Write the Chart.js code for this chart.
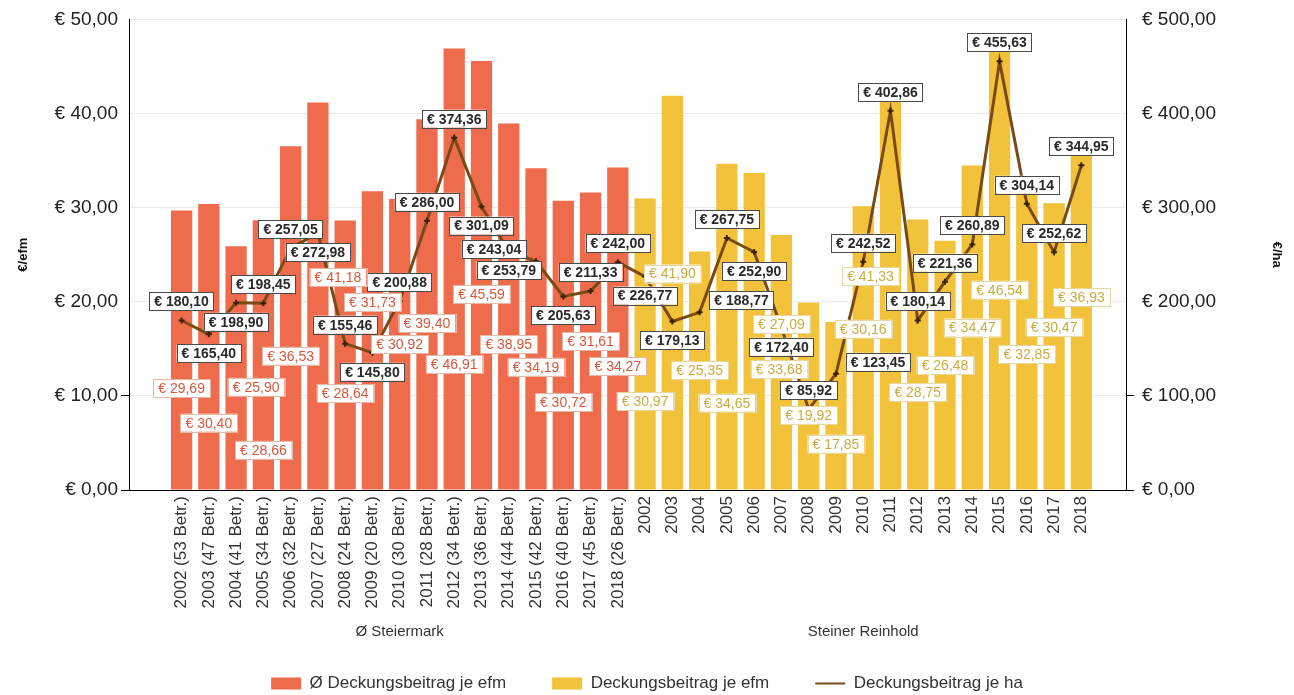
<!DOCTYPE html>
<html><head><meta charset="utf-8">
<script src="https://cdn.jsdelivr.net/npm/chart.js@4.4.0/dist/chart.umd.min.js"></script>
<style>html,body{margin:0;padding:0;background:#fff}#wrap{width:1294px;height:695px}</style>
</head><body><div id="wrap"><canvas id="c" width="1294" height="695"></canvas></div>
<script>
const categories = [
  '2002 (53 Betr.)','2003 (47 Betr.)','2004 (41 Betr.)','2005 (34 Betr.)','2006 (32 Betr.)','2007 (27 Betr.)',
  '2008 (24 Betr.)','2009 (20 Betr.)','2010 (30 Betr.)','2011 (28 Betr.)','2012 (34 Betr.)','2013 (36 Betr.)',
  '2014 (44 Betr.)','2015 (42 Betr.)','2016 (40 Betr.)','2017 (45 Betr.)','2018 (26 Betr.)',
  '2002','2003','2004','2005','2006','2007','2008','2009','2010','2011','2012','2013','2014','2015','2016','2017','2018'
];
const groupNames = ['Ø Steiermark', 'Steiner Reinhold'];
const groupSizes = [17, 17];
const seriesNames = ['Ø Deckungsbeitrag je efm', 'Deckungsbeitrag je efm', 'Deckungsbeitrag je ha'];
const steiermarkEfm = [29.69, 30.40, 25.90, 28.66, 36.53, 41.18, 28.64, 31.73, 30.92, 39.40, 46.91, 45.59, 38.95, 34.19, 30.72, 31.61, 34.27];
const steinerEfm = [30.97, 41.90, 25.35, 34.65, 33.68, 27.09, 19.92, 17.85, 30.16, 41.33, 28.75, 26.48, 34.47, 46.54, 32.85, 30.47, 36.93];
const perHa = [180.10, 165.40, 198.90, 198.45, 257.05, 272.98, 155.46, 145.80, 200.88, 286.00, 374.36, 301.09, 253.79, 243.04, 205.63, 211.33, 242.00,
               226.77, 179.13, 188.77, 267.75, 252.90, 172.40, 85.92, 123.45, 242.52, 402.86, 180.14, 221.36, 260.89, 455.63, 304.14, 252.62, 344.95];
const efmTicks = [0, 10, 20, 30, 40, 50];
const haTicks = [0, 100, 200, 300, 400, 500];

const FONT = "'Liberation Sans', Arial, sans-serif";
const fmt = v => '€ ' + Number(v).toFixed(2).replace('.', ',');
const C_ST = '#EE6B4C', C_SR = '#F2C23A', C_LINE = '#7A4A16';

const labelPlugin = {
  id: 'valueLabels',
  afterDatasetsDraw(chart) {
    const ctx = chart.ctx, area = chart.chartArea;
    const placed = [];
    const ov = (a, p) => Math.max(0, Math.min(a.x2, p.x2) - Math.max(a.x1, p.x1)) * Math.max(0, Math.min(a.y2, p.y2) - Math.max(a.y1, p.y1));
    const overlapArea = b => placed.reduce((s, p) => s + ov(b, p), 0);
    const items = [];
    const lm = chart.getDatasetMeta(2);
    lm.data.forEach((el, i) => items.push({x: el.x, y: el.y, text: fmt(perHa[i]), kind: 'line'}));
    [0, 1].forEach(di => {
      const m = chart.getDatasetMeta(di);
      const vals = di === 0 ? steiermarkEfm : steinerEfm;
      m.data.forEach((el, i) => items.push({x: el.x, y: (el.y + el.base) / 2, text: fmt(vals[i]), kind: di === 0 ? 'st' : 'sr'}));
    });
    items.forEach(it => {
      ctx.font = (it.kind === 'line' ? 'bold ' : '') + '14px ' + FONT;
      const w = ctx.measureText(it.text).width + 10, h = 18;
      let cands;
      if (it.kind === 'line') {
        cands = [[0,-19],[0,19],[-42,-12],[42,-12],[-42,12],[42,12],[0,-38],[0,38],[-50,0],[50,0],[-30,-30],[30,30],[0,-57],[0,57]];
      } else {
        cands = [[0,0],[0,19],[0,-19],[0,38],[0,-38],[-20,19],[20,19],[-20,-19],[20,-19],[0,57],[0,-57],[0,76],[0,-76],[-25,38],[25,38],[0,95]];
      }
      let box = null, best = null, bestA = Infinity;
      for (const [dx, dy] of cands) {
        const cx = it.x + dx, cy = it.y + dy;
        const b = {x1: cx - w/2, x2: cx + w/2, y1: cy - h/2, y2: cy + h/2};
        if (b.y2 > area.bottom - 1 || b.y1 < area.top - 10) continue;
        const a = overlapArea(b);
        if (a === 0) { box = b; break; }
        if (a < bestA) { bestA = a; best = b; }
      }
      if (!box) box = best;
      placed.push(box);
      ctx.save();
      ctx.fillStyle = '#ffffff';
      ctx.fillRect(box.x1, box.y1, w, h);
      ctx.lineWidth = 1;
      ctx.strokeStyle = it.kind === 'line' ? '#4a4a4a' : (it.kind === 'st' ? '#e7b7a6' : '#e6d9a0');
      ctx.strokeRect(Math.round(box.x1) + 0.5, Math.round(box.y1) + 0.5, Math.round(w), h);
      ctx.fillStyle = it.kind === 'line' ? '#2a2a2a' : (it.kind === 'st' ? '#d9583c' : '#c9ad40');
      ctx.textAlign = 'center'; ctx.textBaseline = 'middle';
      ctx.fillText(it.text, (box.x1 + box.x2) / 2, (box.y1 + box.y2) / 2 + 1);
      ctx.restore();
    });
  },
  afterDraw(chart) {
    const ctx = chart.ctx, xs = chart.scales.x;
    ctx.save();
    ctx.font = '15px ' + FONT; ctx.fillStyle = '#333'; ctx.textAlign = 'center'; ctx.textBaseline = 'middle';
    let start = 0;
    groupNames.forEach((g, k) => {
      const mid = start + (groupSizes[k] - 1) / 2;
      ctx.fillText(g, xs.getPixelForValue(mid), 632);
      start += groupSizes[k];
    });
    ctx.restore();
  }
};

const tickColorFn = c => (c.tick && c.tick.value <= c.scale.max / 5 ? '#000' : 'rgba(0,0,0,0)');

new Chart(document.getElementById('c'), {
  type: 'bar',
  data: {
    datasets: [
      {label: seriesNames[0], data: steiermarkEfm.map((v, i) => ({x: i, y: v})), backgroundColor: C_ST, yAxisID: 'y', stack: 'g', order: 1, barPercentage: 0.78, categoryPercentage: 1},
      {label: seriesNames[1], data: steinerEfm.map((v, i) => ({x: i + groupSizes[0], y: v})), backgroundColor: C_SR, yAxisID: 'y', stack: 'g', order: 1, barPercentage: 0.78, categoryPercentage: 1},
      {label: seriesNames[2], type: 'line', data: perHa.map((v, i) => ({x: i, y: v})), yAxisID: 'y1', order: 0,
       borderColor: C_LINE, borderWidth: 3, pointStyle: 'cross', pointRadius: 3, pointBorderColor: '#3a2205', pointBorderWidth: 2, tension: 0}
    ]
  },
  options: {
    responsive: false, animation: false, devicePixelRatio: 1,
    layout: {padding: {top: 14, bottom: -7}},
    plugins: {
      tooltip: {enabled: false},
      legend: {
        position: 'bottom',
        labels: {
          font: {size: 17, family: FONT}, color: '#333', padding: 46, boxWidth: 30, boxHeight: 12,
          usePointStyle: true, pointStyleWidth: 30,
          sort: (a, b) => a.datasetIndex - b.datasetIndex,
          generateLabels: chart => chart.data.datasets.map((d, i) => ({
            text: d.label, datasetIndex: i, fillStyle: i === 2 ? C_LINE : d.backgroundColor,
            strokeStyle: i === 2 ? C_LINE : d.backgroundColor, lineWidth: i === 2 ? 2 : 0,
            pointStyle: i === 2 ? 'line' : 'rect', fontColor: '#333', hidden: false
          }))
        }
      }
    },
    scales: {
      x: {
        type: 'linear', min: -1.39, max: 34.1,
        grid: {display: false, drawTicks: false},
        border: {display: true, color: '#000', width: 1},
        afterBuildTicks: s => { s.ticks = categories.map((_, i) => ({value: i})); },
        afterFit: s => { s.height = 139; },
        ticks: {autoSkip: false, maxRotation: 90, minRotation: 90, padding: 6, color: '#333',
                font: {size: 17, family: FONT}, callback: v => categories[v] ?? ''}
      },
      y: {
        position: 'left', min: efmTicks[0], max: efmTicks[efmTicks.length - 1],
        afterBuildTicks: s => { s.ticks = efmTicks.map(v => ({value: v})); },
        afterFit: s => { s.width = 129; },
        grid: {color: '#ebebeb', tickLength: 8, tickColor: tickColorFn},
        border: {display: true, color: '#000', width: 1},
        ticks: {padding: 3, color: '#222', font: {size: 19, family: FONT}, callback: v => fmt(v)},
        title: {display: true, text: '€/efm', color: '#111', font: {size: 13, weight: 'bold', family: FONT}, padding: {top: 16, bottom: 0}}
      },
      y1: {
        position: 'right', min: haTicks[0], max: haTicks[haTicks.length - 1],
        afterBuildTicks: s => { s.ticks = haTicks.map(v => ({value: v})); },
        afterFit: s => { s.width = 168; },
        grid: {drawOnChartArea: false, tickLength: 8, tickColor: tickColorFn},
        border: {display: true, color: '#000', width: 1},
        ticks: {padding: 8, color: '#222', font: {size: 19, family: FONT}, callback: v => fmt(v)},
        title: {display: true, text: '€/ha', color: '#111', font: {size: 13, weight: 'bold', family: FONT}, padding: {top: 10, bottom: 0}}
      }
    }
  },
  plugins: [labelPlugin]
});
</script></body></html>
